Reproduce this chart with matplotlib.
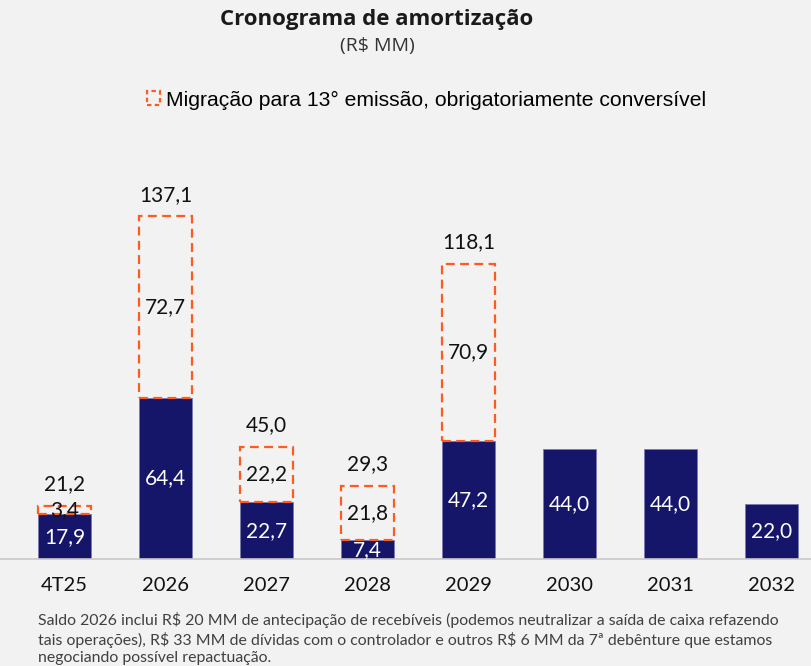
import matplotlib.pyplot as plt
from matplotlib.patches import Patch

# data
categories = ["4T25", "2026", "2027", "2028", "2029", "2030", "2031", "2032"]
saldo = [17.9, 64.4, 22.7, 7.4, 47.2, 44.0, 44.0, 22.0]
migracao = [3.4, 72.7, 22.2, 21.8, 70.9, 0, 0, 0]
totais = [21.2, 137.1, 45.0, 29.3, 118.1, None, None, None]

navy = "#15156a"
orange = "#ff5a1f"
bg = "#f2f2f2"

fig = plt.figure(figsize=(8.11, 6.66), dpi=100, facecolor=bg)
ax = fig.add_axes([0, 0.1607, 1, 0.644])
ax.set_facecolor(bg)

x = list(range(len(categories)))
width = 0.53

ax.bar(x, saldo, width=width, color=navy, edgecolor="#7a7ab0", linewidth=0.6, zorder=2)

# dashed boxes for the migration part
mig_x = [xi for xi, m in zip(x, migracao) if m > 0]
mig_v = [m for m in migracao if m > 0]
mig_b = [s for s, m in zip(saldo, migracao) if m > 0]
ax.bar(mig_x, mig_v, bottom=mig_b, width=width, fill=False, edgecolor=orange,
       linewidth=1.6, linestyle=(0, (4, 2.4)), zorder=3)

def fmt(v):
    return f"{v:.1f}".replace(".", ",")

for xi, s, m, t in zip(x, saldo, migracao, totais):
    ax.text(xi, s / 2, fmt(s), ha="center", va="center", color="white",
            fontsize=15, family="Lato", zorder=4)
    if m > 0:
        ax.text(xi, s + m / 2, fmt(m), ha="center", va="center", color="#111111",
                fontsize=15, family="Lato", zorder=4)
    if t is not None:
        ax.annotate(fmt(t), (xi, s + m), xytext=(0, 15.5), textcoords="offset points",
                    ha="center", va="center", color="#111111", fontsize=15, family="Lato")

ax.set_xlim(-0.64, 7.39)
ax.set_ylim(0, 171.6)
ax.set_xticks(x)
ax.set_xticklabels(categories, fontsize=14.5, family="Lato", color="#111111")
ax.tick_params(axis="x", length=0, pad=13)
ax.set_yticks([])
for side in ["top", "right", "left"]:
    ax.spines[side].set_visible(False)
ax.spines["bottom"].set_color("#c8c8c8")
ax.spines["bottom"].set_linewidth(1.2)

fig.text(377 / 811, 1 - 20 / 666, "Cronograma de amortização", ha="center", va="center",
         fontsize=16, fontweight="bold", family="Open Sans", color="#1a1a1a")
fig.text(377 / 811, 1 - 46 / 666, "(R\\$ MM)", ha="center", va="center",
         fontsize=14, family="Open Sans", color="#333333")

handle = Patch(facecolor="none", edgecolor=orange, linestyle=(0, (2, 1.5)), linewidth=1.6)
fig.legend([handle], ["Migração para 13° emissão, obrigatoriamente conversível"],
           loc="center", bbox_to_anchor=(427 / 811, 1 - 100 / 666), frameon=False,
           prop={"family": "Liberation Sans", "size": 15.2}, handlelength=0.6,
           handleheight=0.6, handletextpad=0.3)

nota = ("Saldo 2026 inclui R\\$ 20 MM de antecipação de recebíveis (podemos neutralizar a saída de caixa refazendo\n"
        "tais operações), R\\$ 33 MM de dívidas com o controlador e outros R\\$ 6 MM da 7ª debênture que estamos\n"
        "negociando possível repactuação.")
fig.text(38 / 811, 1 - 612 / 666, nota, ha="left", va="top", fontsize=11.4,
         family="Lato", color="#404040", linespacing=1.3)

fig.savefig("out.png", dpi=100, facecolor=bg)
